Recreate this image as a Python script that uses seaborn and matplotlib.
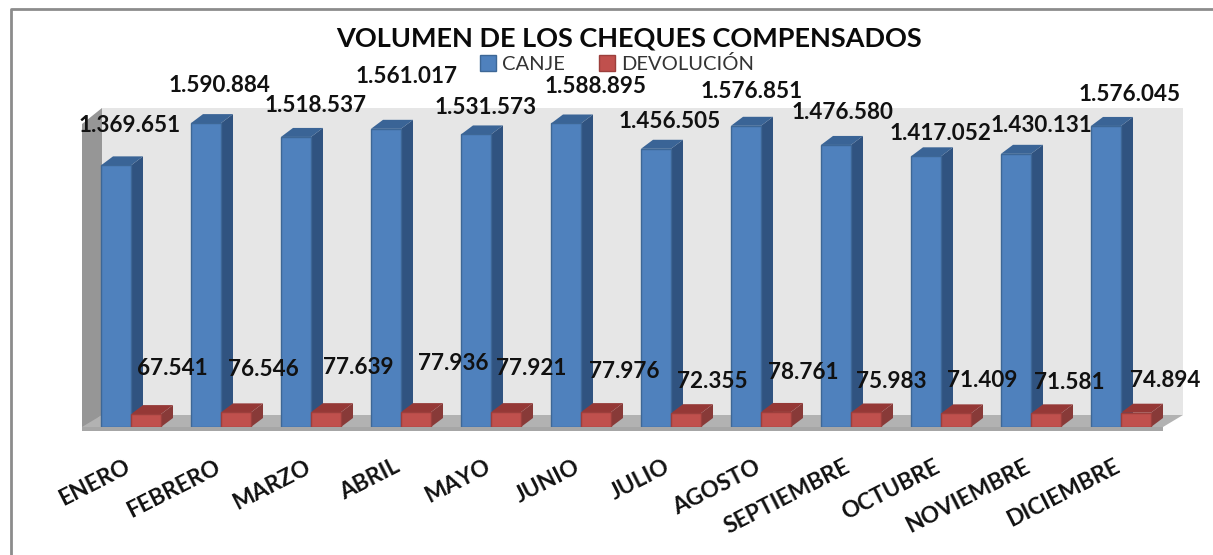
import matplotlib
matplotlib.use("Agg")
import matplotlib.pyplot as plt
from matplotlib.patches import Polygon
from matplotlib.lines import Line2D
from matplotlib.transforms import ScaledTranslation
import pandas as pd
import seaborn as sns

months = ["ENERO", "FEBRERO", "MARZO", "ABRIL", "MAYO", "JUNIO", "JULIO", "AGOSTO",
          "SEPTIEMBRE", "OCTUBRE", "NOVIEMBRE", "DICIEMBRE"]
canje = [1369651, 1590884, 1518537, 1561017, 1531573, 1588895, 1456505, 1576851,
         1476580, 1417052, 1430131, 1576045]
devolucion = [67541, 76546, 77639, 77936, 77921, 77976, 72355, 78761, 75983, 71409,
              71581, 74894]
series_names = ["CANJE", "DEVOLUCIÓN"]
title = "VOLUMEN DE LOS CHEQUES COMPENSADOS"

# label centres relative to the top of each bar's front face, in pixels
canje_off = [(14, 40), (13, 38), (19.5, 31), (21, 52), (10, 26.5), (30, 36.5), (14, 27),
             (6, 34), (7, 32), (14, 23), (25, 28), (24, 31)]
dev_off = [(26, 46), (27, 43), (32, 45), (37, 49), (25, 44), (28, 41), (26, 32),
           (27, 39), (25, 30.5), (26, 33), (23, 31), (29.5, 32)]

BLUE, BLUE_TOP, BLUE_SIDE = "#4F81BD", "#3A6496", "#305380"
RED, RED_TOP, RED_SIDE = "#C0504D", "#953836", "#883A38"
FONT = "Lato"

W, H = 1213, 555
fig = plt.figure(figsize=(W / 100, H / 100), dpi=100, facecolor="white")
ax = fig.add_axes([86 / W, (H - 427) / H, 1080 / W, 319 / H])

df = pd.DataFrame({
    "mes": months * 2,
    "serie": [series_names[0]] * 12 + [series_names[1]] * 12,
    "valor": canje + devolucion,
})
sns.barplot(data=df, x="mes", y="valor", hue="serie", hue_order=series_names,
            palette=[BLUE, RED], width=2 / 3, gap=0, saturation=1, ax=ax,
            errorbar=None, zorder=3)
ax.set_xlim(-0.5, 11.5)
ax.set_ylim(0, 1670000)
ax.set_xlabel("")
ax.set_ylabel("")
ax.set_yticks([])
for s in ax.spines.values():
    s.set_visible(False)
ax.set_facecolor("none")
ax.tick_params(axis="x", length=0, pad=21)
ax.set_xticks(range(12))
ax.set_xticklabels(months, rotation=27, ha="right", rotation_mode="anchor",
                   fontsize=16.4, fontweight="bold", fontfamily=FONT, color="#111111")
shift = ScaledTranslation(-5 / 72, 0, fig.dpi_scale_trans)
for lab in ax.get_xticklabels():
    lab.set_transform(lab.get_transform() + shift)

# pixel -> data helpers derived from the axis scales
px_x = 1 / 90
px_y = 1670000 / 319
dx, dy = 12 * px_x, 9 * px_y


def poly(pts, color, z, ec="none"):
    ax.add_patch(Polygon(pts, closed=True, fc=color, ec=ec, lw=0.6, zorder=z, clip_on=False))


# chart walls and floor
x0, x1 = -0.5, 11.5
wl, wr = x0 + 16 * px_x, x1 + 17 * px_x
top = 1670000
back = 12 * px_y
fr = -4 * px_y
poly([(wl, back), (wr, back), (wr, top), (wl, top)], "#E6E6E6", 0.5)
poly([(wl - 20 * px_x, fr), (wl, back), (wl, top), (wl - 20 * px_x, top - 16 * px_y)], "#969696", 0.6)
poly([(wl - 20 * px_x, 0), (wr - 20 * px_x, 0), (wr, back), (wl, back)], "#B2B2B2", 0.7)
poly([(wl - 20 * px_x, fr), (wr - 20 * px_x, fr), (wr - 20 * px_x, 0), (wl - 20 * px_x, 0)], "#A6A6A6", 0.8)

# extruded sides and tops of every bar, built from the bars themselves
containers = ax.containers
for cont, c_top, c_side, z, edge in ((containers[0], BLUE_TOP, BLUE_SIDE, 2.0, "#3D6796"),
                                     (containers[1], RED_TOP, RED_SIDE, 2.5, "#9C3F3C")):
    for b in cont:
        l, w, h = b.get_x(), b.get_width(), b.get_height()
        r = l + w
        poly([(r, 0), (r + dx, dy), (r + dx, h + dy), (r, h)], c_side, z)
        poly([(l, h), (r, h), (r + dx, h + dy), (l + dx, h + dy)], c_top, z)
        b.set_edgecolor(edge)
        b.set_linewidth(1.0)


# value labels
def fmt(v):
    return f"{v:,}".replace(",", ".")


for cont, vals, offs in ((containers[0], canje, canje_off), (containers[1], devolucion, dev_off)):
    for b, v, (ox, oy) in zip(cont, vals, offs):
        xc = b.get_x() + b.get_width() / 2
        ax.annotate(fmt(v), xy=(xc, v), xytext=(ox * 0.72, oy * 0.72),
                    textcoords="offset points", ha="center", va="center",
                    fontsize=16.2, fontweight="bold", fontfamily=FONT, color="#111111",
                    zorder=10, annotation_clip=False)

# title, legend, frame
fig.text(628.5 / W, (H - 38.5) / H, title, ha="center", va="center", fontsize=19.5,
         fontweight="bold", fontfamily=FONT, color="#0A0A0A")
handles, labels = ax.get_legend_handles_labels()
for hd in handles:
    hd.set_edgecolor("#3D6796" if hd.get_facecolor()[2] > 0.5 else "#9C3F3C")
leg = fig.legend(handles, labels, ncol=2, loc="center", bbox_to_anchor=(617 / W, (H - 64) / H),
                 frameon=False, handlelength=0.8, handleheight=0.8, handletextpad=0.3,
                 columnspacing=1.7, prop={"family": FONT, "size": 14.5})
for t in leg.get_texts():
    t.set_color("#333333")
if ax.get_legend():
    ax.get_legend().remove()

fig.add_artist(Line2D([10.5 / W, 10.5 / W, 1], [0, (H - 8.5) / H, (H - 8.5) / H],
                      transform=fig.transFigure, color="#8C8C8C", lw=2))

fig.savefig("out.png", dpi=100, facecolor="white")
